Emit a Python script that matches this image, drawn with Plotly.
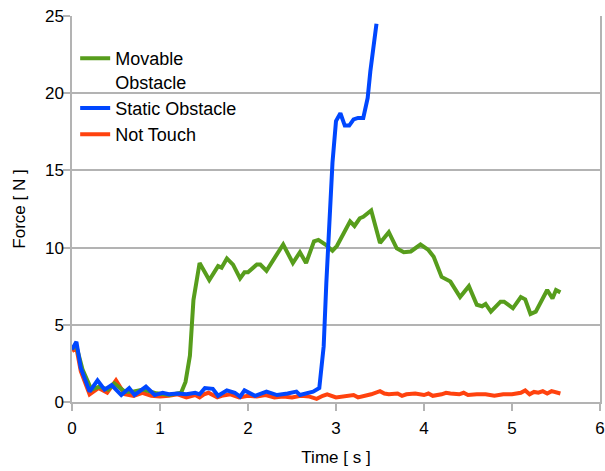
import plotly.graph_objects as go

# ---- data ----
movable_t = [0, 0.05, 0.12, 0.22, 0.31, 0.41, 0.48, 0.60, 0.69, 0.81, 0.96, 1.11, 1.24, 1.29, 1.34,
             1.38, 1.45, 1.56, 1.66, 1.70, 1.76, 1.83, 1.91, 1.96, 2.00, 2.10, 2.14, 2.21, 2.31, 2.40,
             2.51, 2.59, 2.66, 2.75, 2.80, 2.88, 2.96, 3.01, 3.16, 3.21, 3.27, 3.31, 3.40, 3.50, 3.60,
             3.69, 3.77, 3.85, 3.96, 4.05, 4.11, 4.20, 4.30, 4.41, 4.51, 4.60, 4.66, 4.70, 4.76, 4.87,
             4.91, 5.01, 5.10, 5.15, 5.21, 5.27, 5.40, 5.46, 5.50, 5.55]
movable_f = [3.5, 3.6, 2.1, 0.8, 1.0, 0.8, 1.2, 0.67, 0.67, 0.8, 0.56, 0.45, 0.6, 1.3, 3.0,
             6.6, 9.0, 7.9, 8.8, 8.7, 9.3, 8.9, 8.0, 8.4, 8.4, 8.9, 8.9, 8.5, 9.4, 10.2,
             9.0, 9.7, 9.0, 10.4, 10.5, 10.2, 9.8, 10.1, 11.7, 11.4, 11.9, 12.0, 12.4, 10.3, 11.0,
             9.95, 9.7, 9.75, 10.2, 9.85, 9.4, 8.1, 7.8, 6.8, 7.5, 6.3, 6.2, 6.35, 5.85, 6.5,
             6.5, 6.07, 6.8, 6.65, 5.7, 5.85, 7.25, 6.7, 7.25, 7.1]

static_t = [0, 0.05, 0.10, 0.20, 0.29, 0.37, 0.45, 0.56, 0.65, 0.71, 0.84, 0.94, 1.03, 1.10, 1.20,
            1.30, 1.40, 1.45, 1.51, 1.60, 1.66, 1.76, 1.85, 1.91, 1.96, 2.08, 2.21, 2.33, 2.45, 2.55,
            2.59, 2.67, 2.74, 2.81, 2.86, 2.89, 2.93, 2.96, 3.00, 3.05, 3.10, 3.15, 3.20, 3.25, 3.31,
            3.36, 3.39, 3.46]
static_f = [3.4, 3.9, 2.2, 0.67, 1.4, 0.8, 1.1, 0.45, 0.9, 0.45, 1.0, 0.45, 0.6, 0.5, 0.55,
            0.5, 0.6, 0.5, 0.9, 0.85, 0.4, 0.75, 0.6, 0.35, 0.75, 0.4, 0.67, 0.45, 0.55, 0.67,
            0.45, 0.55, 0.67, 0.9, 3.6, 7.7, 12.0, 15.5, 18.2, 18.7, 17.9, 17.9, 18.3, 18.4, 18.4,
            19.7, 21.4, 24.5]

nottouch_t = [0, 0.05, 0.10, 0.20, 0.30, 0.40, 0.50, 0.55, 0.60, 0.70, 0.80, 0.90, 1.00, 1.10, 1.20,
              1.30, 1.40, 1.45, 1.50, 1.55, 1.60, 1.65, 1.70, 1.80, 1.90, 2.00, 2.10, 2.20, 2.30, 2.40,
              2.50, 2.60, 2.70, 2.78, 2.85, 2.90, 3.00, 3.10, 3.20, 3.25, 3.30, 3.40, 3.50, 3.55, 3.60,
              3.70, 3.75, 3.80, 3.90, 4.00, 4.05, 4.10, 4.20, 4.25, 4.30, 4.40, 4.45, 4.50, 4.60, 4.70,
              4.80, 4.90, 5.00, 5.10, 5.15, 5.20, 5.25, 5.30, 5.35, 5.40, 5.45, 5.50, 5.55]
nottouch_f = [3.3, 3.5, 2.0, 0.5, 0.9, 0.6, 1.4, 0.9, 0.5, 0.4, 0.6, 0.4, 0.35, 0.4, 0.5,
              0.3, 0.45, 0.3, 0.5, 0.6, 0.45, 0.3, 0.4, 0.5, 0.3, 0.4, 0.35, 0.45, 0.3, 0.35,
              0.3, 0.4, 0.35, 0.2, 0.4, 0.5, 0.3, 0.35, 0.45, 0.3, 0.35, 0.5, 0.7, 0.55, 0.5,
              0.55, 0.4, 0.5, 0.55, 0.45, 0.55, 0.4, 0.5, 0.6, 0.55, 0.5, 0.6, 0.45, 0.5, 0.5,
              0.4, 0.5, 0.5, 0.6, 0.75, 0.5, 0.65, 0.6, 0.7, 0.55, 0.7, 0.6, 0.55]

x_ticks = [0, 1, 2, 3, 4, 5, 6]
y_ticks = [0, 5, 10, 15, 20, 25]

GREEN = "#579D1C"
BLUE = "#0047FF"
RED = "#FF420E"
GRID = "#B3B3B3"
FONT = "Liberation Sans, Arial, sans-serif"

fig = go.Figure()
fig.add_trace(go.Scatter(x=nottouch_t, y=nottouch_f, mode="lines", name="Not Touch",
                         line=dict(color=RED, width=4), legendrank=3))
fig.add_trace(go.Scatter(x=movable_t, y=movable_f, mode="lines", name="Movable<br>Obstacle",
                         line=dict(color=GREEN, width=4), legendrank=1))
fig.add_trace(go.Scatter(x=static_t, y=static_f, mode="lines", name="Static Obstacle",
                         line=dict(color=BLUE, width=4), legendrank=2))

fig.update_layout(
    width=605, height=471,
    margin=dict(l=72, r=5, t=16, b=69, autoexpand=False),
    plot_bgcolor="white", paper_bgcolor="white",
    font=dict(family=FONT, size=17, color="#000000"),
    showlegend=True,
    legend=dict(x=0.006, y=0.938, xanchor="left", yanchor="top", valign="top",
                bgcolor="rgba(0,0,0,0)", font=dict(size=18), traceorder="normal",
                tracegroupgap=0, itemwidth=30),
    xaxis=dict(range=[0, 6], tickvals=x_ticks, showgrid=False, zeroline=False,
               showline=True, linecolor=GRID, linewidth=1.5,
               ticks="outside", ticklen=7, tickcolor=GRID, tickwidth=1.5, automargin=False,
               tickfont=dict(size=17), ticklabelstandoff=3, ticklabeloverflow="allow",
               title=dict(text="Time [ s ]", standoff=14, font=dict(size=17))),
    yaxis=dict(range=[0, 25], tickvals=y_ticks, showgrid=True, gridcolor=GRID, gridwidth=1.5,
               zeroline=False, showline=True, mirror=True, linecolor=GRID, linewidth=1.5,
               ticks="outside", ticklen=7, tickcolor=GRID, tickwidth=1.5, automargin=False,
               tickfont=dict(size=17), ticklabelstandoff=-4, ticklabeloverflow="allow",
               title=dict(text="Force [ N ]", standoff=15, font=dict(size=17))),
)

# remove the default page margin so the 605x471 figure fills the window exactly
fig.write_html("out.html", config={"displayModeBar": False},
               post_script="document.body.style.margin='0';document.body.style.overflow='hidden';")
